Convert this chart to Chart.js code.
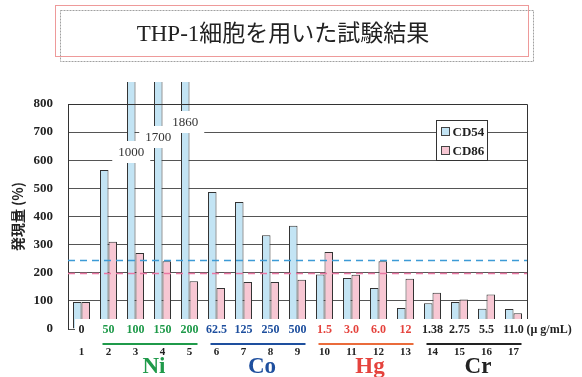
<!DOCTYPE html>
<html>
<head>
<meta charset="utf-8">
<script src="https://cdn.jsdelivr.net/npm/chart.js@4/dist/chart.umd.min.js"></script>
<style>
html,body{margin:0;padding:0;background:#fff;}
canvas{display:block;}
</style>
</head>
<body>
<canvas id="c" width="582" height="377"></canvas>
<script>
// ---- data ----
const titleText = 'THP-1細胞を用いた試験結果';
const categories = ['1','2','3','4','5','6','7','8','9','10','11','12','13','14','15','16','17'];
const concentrations = ['0','50','100','150','200','62.5','125','250','500','1.5','3.0','6.0','12','1.38','2.75','5.5','11.0'];
const concUnit = '(μ g/mL)';
const groupNames = ['Ni','Co','Hg','Cr'];
const groupFirst = [1, 5, 9, 13];
const groupLast = [4, 8, 12, 16];
const seriesNames = ['CD54','CD86'];
const cd54 = [96, 565, 1000, 1700, 1860, 487, 452, 333, 367, 194, 181, 146, 75, 92, 96, 72, 71];
const cd86 = [96, 310, 270, 241, 170, 146, 167, 167, 175, 274, 193, 241, 179, 129, 105, 123, 56];
const thresholds = [245, 200];           // CD54, CD86 criteria lines
const yTicks = [0, 100, 200, 300, 400, 500, 600, 700, 800];
const yAxisTitle = '発現量 (%)';

// ---- styles ----
const groupColors = ['#1f9a4a', '#1e4f9e', '#e5433d', '#222222'];
const lineColors  = ['#1f9a4a', '#1e4f9e', '#ea6b3b', '#222222'];
const seriesFill = ['#c3e4f4', '#f7c7d3'];
const threshColors = ['#3d9bd6', '#e977a3'];
const SERIF = "'Liberation Serif', 'Times New Roman', serif";

function groupOf(i){
  for (let g = 0; g < groupFirst.length; g++) if (i >= groupFirst[g] && i <= groupLast[g]) return g;
  return -1;
}

const decor = {
  id: 'decor',
  beforeDraw(chart){
    const ctx = chart.ctx;
    ctx.save();
    ctx.fillStyle = '#fff';
    ctx.fillRect(0, 0, chart.width, chart.height);
    // title boxes
    ctx.lineWidth = 1;
    ctx.strokeStyle = '#a0a0a0';
    ctx.setLineDash([2, 1]);
    ctx.strokeRect(60.5, 10.5, 473, 51);
    ctx.setLineDash([]);
    ctx.strokeStyle = '#ee9a9a';
    ctx.strokeRect(55.5, 5.5, 473, 51);
    // title text
    ctx.fillStyle = '#222';
    ctx.font = "23px 'Liberation Serif', 'Noto Sans CJK JP', serif";
    ctx.textAlign = 'center';
    ctx.textBaseline = 'middle';
    ctx.fillText(titleText, 283, 35);
    ctx.restore();
  },
  afterDatasetsDraw(chart){
    const ctx = chart.ctx;
    const a = chart.chartArea;
    const xs = chart.scales.x, ys = chart.scales.y;
    ctx.save();

    // threshold dashed lines
    ctx.lineWidth = 1.5;
    ctx.setLineDash([7, 5]);
    thresholds.forEach((t, k) => {
      const py = Math.round(ys.getPixelForValue(t)) + 0.5;
      ctx.strokeStyle = threshColors[k];
      ctx.beginPath(); ctx.moveTo(a.left, py); ctx.lineTo(a.right, py); ctx.stroke();
    });
    ctx.setLineDash([]);

    // frame top & right
    ctx.strokeStyle = '#333';
    ctx.lineWidth = 1;
    ctx.beginPath();
    ctx.moveTo(a.left, a.top + 0.5); ctx.lineTo(a.right + 0.5, a.top + 0.5);
    ctx.lineTo(a.right + 0.5, a.bottom);
    ctx.stroke();

    // overflow value labels
    const meta = chart.getDatasetMeta(0);
    const over = [];
    cd54.forEach((v, i) => { if (v > ys.max) over.push(i); });
    over.forEach((i, k) => {
      const bx = meta.data[i].x;
      const ly = a.top + 18 + 15 * (over.length - 1 - k);
      ctx.fillStyle = '#fff';
      ctx.fillRect(bx - 19, ly - 11, 38, 22);
      ctx.fillStyle = '#333';
      ctx.font = '13px ' + SERIF;
      ctx.textAlign = 'center';
      ctx.textBaseline = 'middle';
      ctx.fillText(String(cd54[i]), bx, ly + 1);
    });

    // white band at base for concentration labels
    ctx.fillStyle = '#fff';
    ctx.fillRect(a.left + 7, a.bottom - 10, a.right - a.left - 5, 20);

    // concentration labels
    ctx.textAlign = 'center';
    ctx.textBaseline = 'middle';
    ctx.font = 'bold 12px ' + SERIF;
    concentrations.forEach((c, i) => {
      const g = groupOf(i);
      ctx.fillStyle = g >= 0 ? groupColors[g] : '#222';
      ctx.fillText(c, xs.getPixelForValue(i), a.bottom + 1);
    });
    ctx.fillStyle = '#222';
    ctx.textAlign = 'left';
    ctx.fillText(concUnit, xs.getPixelForValue(concentrations.length - 1) + 13, a.bottom + 1);

    // group underlines
    ctx.lineWidth = 2;
    groupNames.forEach((n, g) => {
      const x0 = xs.getPixelForValue(groupFirst[g]) - 6;
      const x1 = xs.getPixelForValue(groupLast[g]) + 8;
      ctx.strokeStyle = lineColors[g];
      ctx.beginPath(); ctx.moveTo(x0, a.bottom + 15); ctx.lineTo(x1, a.bottom + 15); ctx.stroke();
    });

    // category numbers
    ctx.textAlign = 'center';
    ctx.fillStyle = '#222';
    ctx.font = 'bold 11px ' + SERIF;
    categories.forEach((c, i) => ctx.fillText(c, xs.getPixelForValue(i), a.bottom + 23));

    // group names
    ctx.font = 'bold 23px ' + SERIF;
    groupNames.forEach((n, g) => {
      const cx = (xs.getPixelForValue(groupFirst[g]) + xs.getPixelForValue(groupLast[g])) / 2 + 5;
      ctx.fillStyle = groupColors[g];
      ctx.fillText(n, cx, a.bottom + 38);
    });

    // legend
    const lx = 436.5, ly0 = 120.5, lw = 51, lh = 40;
    ctx.fillStyle = '#fff';
    ctx.fillRect(lx, ly0, lw, lh);
    ctx.strokeStyle = '#333';
    ctx.lineWidth = 1;
    ctx.strokeRect(lx, ly0, lw, lh);
    ctx.font = 'bold 13px ' + SERIF;
    ctx.textAlign = 'left';
    chart.data.datasets.forEach((ds, k) => {
      const ry = ly0 + 11 + k * 19;
      ctx.fillStyle = ds.backgroundColor;
      ctx.fillRect(lx + 5, ry - 4, 8, 8);
      ctx.strokeStyle = '#444';
      ctx.strokeRect(lx + 5, ry - 4, 8, 8);
      ctx.fillStyle = '#222';
      ctx.fillText(ds.label, lx + 16, ry + 1);
    });
    ctx.restore();
  }
};

new Chart(document.getElementById('c'), {
  type: 'bar',
  data: {
    labels: categories,
    datasets: [
      { label: seriesNames[0], data: cd54, backgroundColor: seriesFill[0], borderColor: '#333', borderWidth: 1,
        clip: { left: 0, top: 22, right: 0, bottom: 0 } },
      { label: seriesNames[1], data: cd86, backgroundColor: seriesFill[1], borderColor: '#333', borderWidth: 1 }
    ]
  },
  options: {
    responsive: false,
    animation: false,
    devicePixelRatio: 1,
    categoryPercentage: 0.63,
    barPercentage: 1.0,
    layout: { padding: { top: 104, right: 55, bottom: 48, left: 0 } },
    plugins: { legend: { display: false }, title: { display: false }, tooltip: { enabled: false } },
    scales: {
      x: { display: false },
      y: {
        min: yTicks[0], max: yTicks[yTicks.length - 1],
        afterBuildTicks(scale){ scale.ticks = yTicks.map(v => ({ value: v })); },
        afterFit(scale){ scale.width = 68; },
        grid: { color: '#555', lineWidth: 1, drawTicks: false },
        border: { display: true, color: '#333' },
        ticks: { padding: 15, color: '#222', font: { family: SERIF, size: 13, weight: 'bold' } },
        title: { display: true, text: yAxisTitle, color: '#222',
                 font: { family: "'Noto Sans CJK JP', sans-serif", size: 14, weight: 'bold' },
                 padding: { top: 9, bottom: 0 } }
      }
    }
  },
  plugins: [decor]
});
</script>
</body>
</html>
